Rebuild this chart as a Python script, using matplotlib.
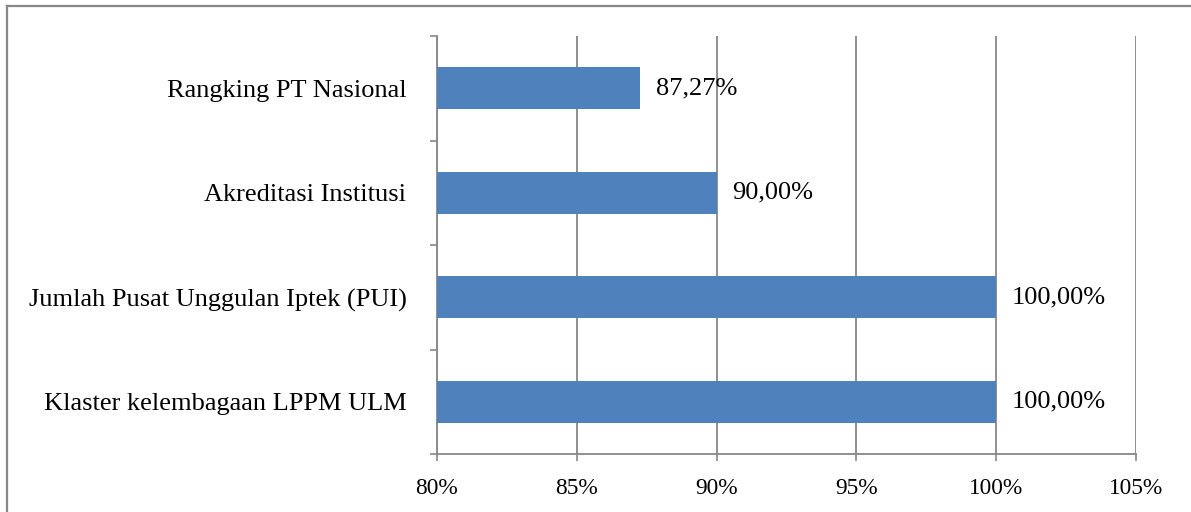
import numpy as np
import matplotlib.pyplot as plt
from matplotlib.lines import Line2D
from matplotlib.ticker import FixedLocator

categories = ['Klaster kelembagaan LPPM ULM', 'Jumlah Pusat Unggulan Iptek (PUI)',
              'Akreditasi Institusi', 'Rangking PT Nasional']
values = [100.00, 100.00, 90.00, 87.27]
xticks = [80, 85, 90, 95, 100, 105]

plt.rcParams['font.family'] = ['Liberation Serif', 'DejaVu Serif']

fig = plt.figure(figsize=(11.91, 5.12), dpi=100)
ax = fig.add_axes([437 / 1191, 1 - 454 / 512, (1136 - 437) / 1191, (454 - 36) / 512])

gray = '#878787'
y = np.arange(len(categories))
ax.barh(y, values, height=0.4, color='#4F81BD', zorder=3)

for yi, v in zip(y, values):
    ax.text(v + 0.55, yi, f'{v:.2f}%'.replace('.', ','), va='center', ha='left',
            fontsize=19, color='black', zorder=4)

ax.set_xlim(80, 105)
ax.set_ylim(-0.5, len(categories) - 0.5)
ax.set_xticks(xticks)
ax.set_xticklabels([f'{t}%' for t in xticks], fontsize=16.8)
ax.set_yticks(y)
ax.set_yticklabels(categories, fontsize=19)
ax.yaxis.set_minor_locator(FixedLocator(np.arange(-0.5, len(categories), 1.0)))

ax.tick_params(axis='y', which='major', length=0, pad=22)
ax.tick_params(axis='y', which='minor', length=5, width=1.2, color=gray)
ax.tick_params(axis='x', which='major', length=5, width=1.2, color=gray, pad=12)

ax.grid(axis='x', color=gray, linewidth=1.3, zorder=0)
for s in ['top', 'right']:
    ax.spines[s].set_visible(False)
for s in ['left', 'bottom']:
    ax.spines[s].set_color(gray)
    ax.spines[s].set_linewidth(1.3)

# outer frame (only left and top visible in the crop)
fig.add_artist(Line2D([7 / 1191, 7 / 1191], [0, 1 - 6 / 512], color='#888888', linewidth=1.6,
                      transform=fig.transFigure))
fig.add_artist(Line2D([7 / 1191, 1], [1 - 6 / 512, 1 - 6 / 512], color='#888888', linewidth=1.6,
                      transform=fig.transFigure))

plt.savefig('out.png', dpi=100)
